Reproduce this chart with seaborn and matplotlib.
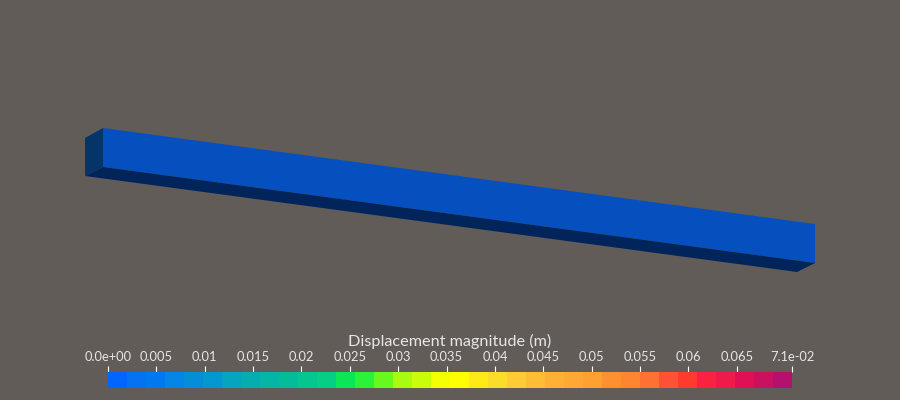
import numpy as np
import matplotlib
matplotlib.use("Agg")
import matplotlib.pyplot as plt
from matplotlib.colors import ListedColormap
import seaborn as sns

# beam faces, screen pixels (x right, y down)
end_face_x = [85, 103, 103, 85]
end_face_y = [138, 128, 167, 176]
front_face_x = [103, 815, 815, 103]
front_face_y = [128, 224, 263, 167]
under_face_x = [85, 103, 815, 797]
under_face_y = [176, 167, 263, 272]

face_colors = ["#053468", "#0550BE", "#01245A"]

# colour bar bands
band_values = [0.001, 0.003, 0.005, 0.007, 0.009, 0.011, 0.013, 0.015, 0.017,
               0.019, 0.021, 0.023, 0.025, 0.026, 0.028, 0.030, 0.032, 0.034,
               0.036, 0.038, 0.040, 0.042, 0.044, 0.046, 0.048, 0.050, 0.052,
               0.054, 0.056, 0.058, 0.060, 0.062, 0.064, 0.066, 0.068, 0.070]
band_colors = ["#0066FF", "#0572F0", "#0078F0", "#0585E5", "#058ED8", "#0598D0",
               "#05A5C0", "#05ADB0", "#05B5A5", "#05BC9A", "#05C590", "#05CF85",
               "#0AE658", "#2CF236", "#68F81E", "#A8FA10", "#C8FC08", "#F4FF02",
               "#FFFF00", "#FFEA18", "#FBDC28", "#FFCC35", "#FFBC35", "#FFB035",
               "#FFA835", "#FFA030", "#FF9030", "#FF8530", "#FF7033", "#FF5235",
               "#FF3A2E", "#FA2240", "#EE1A4A", "#E01055", "#CC1060", "#B4106E"]
bar_max = 0.0707
tick_values = [0, 0.005, 0.01, 0.015, 0.02, 0.025, 0.03, 0.035, 0.04, 0.045,
               0.05, 0.055, 0.06, 0.065, 0.0707]
tick_labels = ["0.0e+00", "0.005", "0.01", "0.015", "0.02", "0.025", "0.03",
               "0.035", "0.04", "0.045", "0.05", "0.055", "0.06", "0.065",
               "7.1e-02"]
bar_title = "Displacement magnitude (m)"

bg = "#625C58"
text_color = "#E6E6E6"

sns.set_theme(style="white")
plt.rcParams["font.family"] = ["Lato", "DejaVu Sans"]

fig = plt.figure(figsize=(9, 4), dpi=100, facecolor=bg)

ax = fig.add_axes([0, 0, 1, 1])
ax.set_xlim(0, 900)
ax.set_ylim(400, 0)
ax.axis("off")
ax.fill(end_face_x, end_face_y, color=face_colors[0], lw=0)
ax.fill(front_face_x, front_face_y, color=face_colors[1], lw=0)
ax.fill(under_face_x, under_face_y, color=face_colors[2], lw=0)

# colour bar
cax = fig.add_axes([108 / 900, 1 - 388 / 400, 684 / 900, 16 / 400])
sns.heatmap(np.array([band_values]), cmap=ListedColormap(band_colors), vmin=0,
            vmax=bar_max, cbar=False, xticklabels=False, yticklabels=False, ax=cax)
cax.xaxis.tick_top()
cax.set_xticks([v / bar_max * len(band_values) for v in tick_values], tick_labels)
cax.tick_params(axis="x", top=True, bottom=False, length=4, width=0.8, color="white",
                labelcolor=text_color, labelsize=9.3, pad=2.8)
cax.set_title(bar_title, color=text_color, fontsize=11.7, y=1.0, pad=19)

plt.savefig("out.png", dpi=100, facecolor=bg)
